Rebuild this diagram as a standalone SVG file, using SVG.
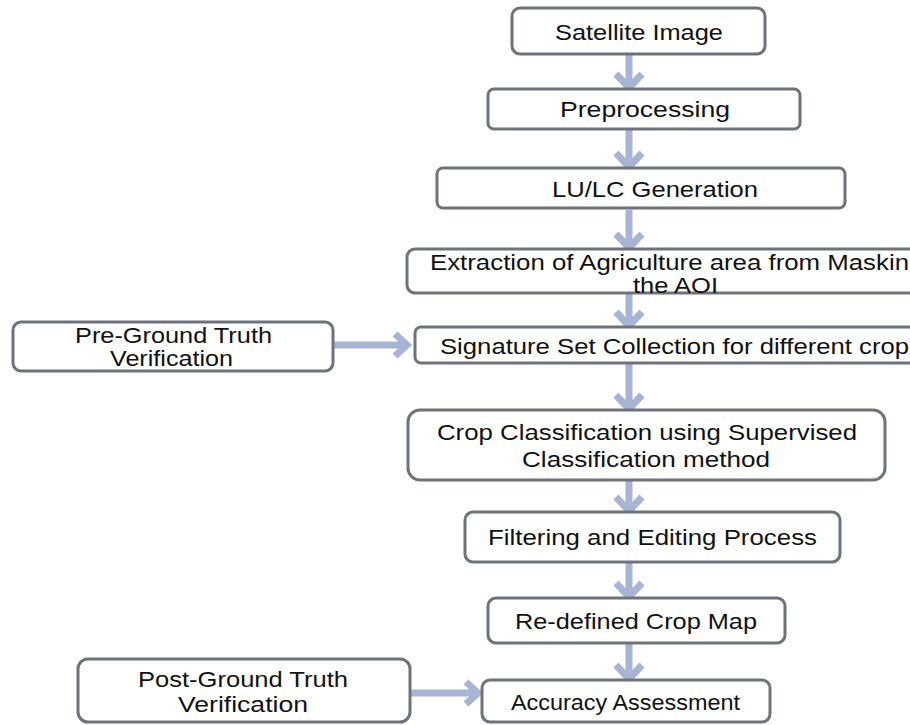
<svg xmlns="http://www.w3.org/2000/svg" width="910" height="725" viewBox="0 0 910 725">
<style>
.box{fill:#ffffff;stroke:#6d727b;stroke-width:3}
.t{font-family:"Liberation Sans",Arial,sans-serif;fill:#111111;font-size:22px}
.arr{fill:none;stroke:#a8b4d4;stroke-width:7;stroke-linejoin:miter;stroke-linecap:butt}
</style>
<rect width="910" height="725" fill="#ffffff"/>
<g id="connectors">
<path class="arr" d="M629,55 V87 M616,74 L629,88 L642,74"/>
<path class="arr" d="M629,130 V166 M616,153 L629,167 L642,153"/>
<path class="arr" d="M629,210 V247 M616,234 L629,248 L642,234"/>
<path class="arr" d="M629,294 V325 M616,312 L629,326 L642,312"/>
<path class="arr" d="M629,364 V408 M616,395 L629,409 L642,395"/>
<path class="arr" d="M629,481 V510 M616,497 L629,511 L642,497"/>
<path class="arr" d="M629,563 V596 M616,583 L629,597 L642,583"/>
<path class="arr" d="M629,644 V678 M616,665 L629,679 L642,665"/>
<path class="arr" d="M334,345 H405 M395,334 L407,345 L395,356"/>
<path class="arr" d="M411,693 H476 M466,682 L478,693 L466,704"/>
</g>
<g id="satellite">
<rect class="box" x="512" y="8" width="253" height="46" rx="8"/>
<text class="t" x="555" y="40" font-size="23" textLength="168" lengthAdjust="spacingAndGlyphs">Satellite Image</text>
</g>
<g id="preprocessing">
<rect class="box" x="488" y="89" width="312" height="40" rx="6"/>
<text class="t" x="560" y="117" font-size="23" textLength="170" lengthAdjust="spacingAndGlyphs">Preprocessing</text>
</g>
<g id="lulc">
<rect class="box" x="437" y="168" width="408" height="40" rx="6"/>
<text class="t" x="552" y="197" textLength="206" lengthAdjust="spacingAndGlyphs">LU/LC Generation</text>
</g>
<g id="extraction">
<rect class="box" x="407" y="249" width="520" height="44" rx="8"/>
<text class="t" x="430" y="270" font-size="21" textLength="479" lengthAdjust="spacingAndGlyphs">Extraction of Agriculture area from Maskin</text>
<text class="t" x="633" y="293" font-size="21" textLength="85" lengthAdjust="spacingAndGlyphs">the AOI</text>
</g>
<g id="signature">
<rect class="box" x="415" y="327" width="520" height="36" rx="6"/>
<text class="t" x="440" y="354" font-size="20" textLength="469" lengthAdjust="spacingAndGlyphs">Signature Set Collection for different crop</text>
</g>
<g id="preground">
<rect class="box" x="13" y="322" width="320" height="49" rx="8"/>
<text class="t" x="75" y="343" font-size="21" textLength="197" lengthAdjust="spacingAndGlyphs">Pre-Ground Truth</text>
<text class="t" x="110" y="366" font-size="21" textLength="123" lengthAdjust="spacingAndGlyphs">Verification</text>
</g>
<g id="cropclass">
<rect class="box" x="408" y="410" width="477" height="70" rx="12"/>
<text class="t" x="437" y="440" font-size="21" textLength="420" lengthAdjust="spacingAndGlyphs">Crop Classification using Supervised</text>
<text class="t" x="522" y="467" font-size="21" textLength="248" lengthAdjust="spacingAndGlyphs">Classification method</text>
</g>
<g id="filtering">
<rect class="box" x="465" y="512" width="375" height="50" rx="8"/>
<text class="t" x="488" y="545" textLength="329" lengthAdjust="spacingAndGlyphs">Filtering and Editing Process</text>
</g>
<g id="redefined">
<rect class="box" x="488" y="598" width="297" height="45" rx="8"/>
<text class="t" x="515" y="629" textLength="242" lengthAdjust="spacingAndGlyphs">Re-defined Crop Map</text>
</g>
<g id="postground">
<rect class="box" x="78" y="659" width="332" height="63" rx="10"/>
<text class="t" x="138" y="687" textLength="210" lengthAdjust="spacingAndGlyphs">Post-Ground Truth</text>
<text class="t" x="178" y="712" textLength="130" lengthAdjust="spacingAndGlyphs">Verification</text>
</g>
<g id="accuracy">
<rect class="box" x="482" y="680" width="288" height="42" rx="8"/>
<text class="t" x="511" y="710" font-size="24" textLength="229" lengthAdjust="spacingAndGlyphs">Accuracy Assessment</text>
</g>
</svg>
